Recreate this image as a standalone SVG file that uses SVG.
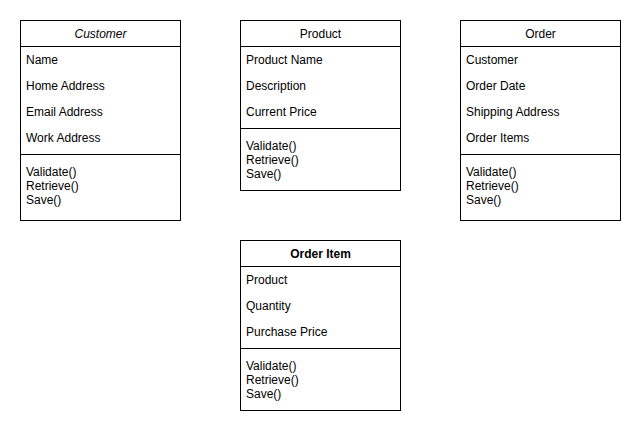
<svg xmlns="http://www.w3.org/2000/svg" width="641" height="434" viewBox="0 0 641 434">
<style>
.box{fill:#fff;stroke:#000;stroke-width:1}
.ln{stroke:#000;stroke-width:1}
text{font-family:"Liberation Sans",Arial,sans-serif;font-size:12px;fill:#000}
.t{text-anchor:middle}
</style>
<rect width="641" height="434" fill="#fff"/>
<g id="customer">
<rect class="box" x="20.5" y="20.5" width="160" height="200"/>
<line class="ln" x1="20.5" y1="46.5" x2="180.5" y2="46.5"/>
<line class="ln" x1="20.5" y1="154.5" x2="180.5" y2="154.5"/>
<text class="t" x="100.5" y="38" font-style="italic">Customer</text>
<text x="26" y="64">Name</text>
<text x="26" y="90">Home Address</text>
<text x="26" y="116">Email Address</text>
<text x="26" y="142">Work Address</text>
<text x="26" y="175.5">Validate()</text>
<text x="26" y="189.5">Retrieve()</text>
<text x="26" y="203.5">Save()</text>
</g>
<g id="product">
<rect class="box" x="240.5" y="20.5" width="160" height="170"/>
<line class="ln" x1="240.5" y1="46.5" x2="400.5" y2="46.5"/>
<line class="ln" x1="240.5" y1="128.5" x2="400.5" y2="128.5"/>
<text class="t" x="320.5" y="38">Product</text>
<text x="246" y="64">Product Name</text>
<text x="246" y="90">Description</text>
<text x="246" y="116">Current Price</text>
<text x="246" y="149.5">Validate()</text>
<text x="246" y="163.5">Retrieve()</text>
<text x="246" y="177.5">Save()</text>
</g>
<g id="order">
<rect class="box" x="460.5" y="20.5" width="160" height="200"/>
<line class="ln" x1="460.5" y1="46.5" x2="620.5" y2="46.5"/>
<line class="ln" x1="460.5" y1="154.5" x2="620.5" y2="154.5"/>
<text class="t" x="540.5" y="38">Order</text>
<text x="466" y="64">Customer</text>
<text x="466" y="90">Order Date</text>
<text x="466" y="116">Shipping Address</text>
<text x="466" y="142">Order Items</text>
<text x="466" y="175.5">Validate()</text>
<text x="466" y="189.5">Retrieve()</text>
<text x="466" y="203.5">Save()</text>
</g>
<g id="orderitem">
<rect class="box" x="240.5" y="240.5" width="160" height="170"/>
<line class="ln" x1="240.5" y1="266.5" x2="400.5" y2="266.5"/>
<line class="ln" x1="240.5" y1="348.5" x2="400.5" y2="348.5"/>
<text class="t" x="320.5" y="258" font-weight="bold">Order Item</text>
<text x="246" y="284">Product</text>
<text x="246" y="310">Quantity</text>
<text x="246" y="336">Purchase Price</text>
<text x="246" y="369.5">Validate()</text>
<text x="246" y="383.5">Retrieve()</text>
<text x="246" y="397.5">Save()</text>
</g>
<g id="connectors"></g>
</svg>
